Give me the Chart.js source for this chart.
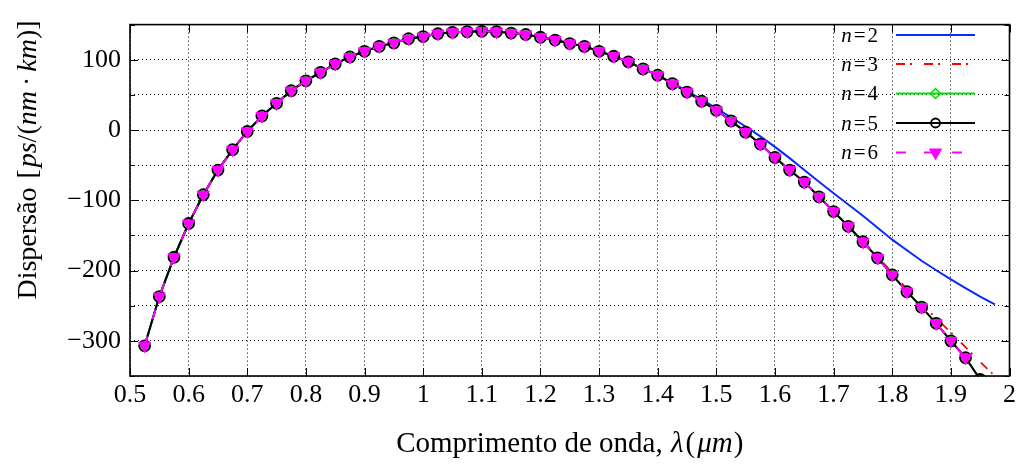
<!DOCTYPE html>
<html lang="pt">
<head>
<meta charset="UTF-8">
<title>Dispersão</title>
<script src="https://cdn.jsdelivr.net/npm/chart.js@4.4.1/dist/chart.umd.min.js"></script>
<style>
  body { margin: 0; background: #fff; }
</style>
</head>
<body>
<canvas id="chart" width="1020" height="464"></canvas>
<script>
// comprimento de onda (um)
const wavelength = [
  0.525, 0.55, 0.575, 0.6, 0.625, 0.65, 0.675, 0.7, 0.725, 0.75,
  0.775, 0.8, 0.825, 0.85, 0.875, 0.9, 0.925, 0.95, 0.975, 1.0,
  1.025, 1.05, 1.075, 1.1, 1.125, 1.15, 1.175, 1.2, 1.225, 1.25,
  1.275, 1.3, 1.325, 1.35, 1.375, 1.4, 1.425, 1.45, 1.475, 1.5,
  1.525, 1.55, 1.575, 1.6, 1.625, 1.65, 1.675, 1.7, 1.725, 1.75,
  1.775, 1.8, 1.825, 1.85, 1.875, 1.9, 1.925, 1.95, 1.975
];

// n=4, n=5 (curvas praticamente iguais)
const dispMain = [
  -307, -237, -181, -133, -92, -57, -28, -2, 20, 38,
  56, 70, 82, 94, 104, 112, 119, 124, 130, 133,
  137, 139, 140, 140.5, 140, 138, 136, 132, 128, 123,
  119, 112, 105, 97, 87, 78, 66, 54, 41, 28,
  13, -3, -20, -39, -57, -74, -95, -116, -137, -159,
  -182, -206, -230, -252, -275, -300, -324, -355, -378
];

const dispN2 = [
  -307, -237, -181, -133, -92, -57, -28, -2, 20, 38,
  56, 70, 82, 94, 104, 112, 119, 124, 130, 133,
  137, 139, 140, 140.5, 140, 138, 136, 132, 128, 123,
  119, 112, 105, 97, 87, 78, 67, 55.5, 43.5, 31,
  18, 5, -9, -24, -40, -57, -73.5, -90, -106, -122,
  -139, -156, -171, -186, -199.5, -212.5, -225, -237, -248
];

const dispN3 = [
  -307, -237, -181, -133, -92, -57, -28, -2, 20, 38,
  56, 70, 82, 94, 104, 112, 119, 124, 130, 133,
  137, 139, 140, 140.5, 140, 138, 136, 132, 128, 123,
  119, 112, 105, 97, 87, 78, 66, 54, 41, 28,
  13, -3, -20, -39, -57, -74, -95, -116, -137, -158,
  -180, -203, -226, -247, -268, -288, -309, -330, -350
];

const dispN4 = dispMain;
const dispN5 = dispMain;
const dispN6 = dispMain.slice(0, 57); // marcadores até 1.925

const seriesLabels = ['2', '3', '4', '5', '6'];
const xTicks = { min: 0.5, max: 2, step: 0.1 };
const yTicks = { min: -350, max: 150, step: 50 };

function pts(ys) {
  return ys.map((y, i) => ({ x: wavelength[i], y: y }));
}

const SERIF = "'Liberation Serif', 'DejaVu Serif', serif";

const datasets = [
  {
    label: 'n=2', data: pts(dispN2), order: 5,
    borderColor: '#0a28ff', borderWidth: 2, pointRadius: 0
  },
  {
    label: 'n=3', data: pts(dispN3), order: 4,
    borderColor: '#ff0000', borderWidth: 1.8, borderDash: [9, 5, 2, 12], pointRadius: 0
  },
  {
    label: 'n=4', data: pts(dispN4), order: 3, clip: 0,
    borderColor: '#00e000', borderWidth: 2, pointStyle: 'rectRot',
    pointRadius: 5, pointBorderWidth: 1.5, pointBackgroundColor: 'rgba(0,0,0,0)',
    pointBorderColor: '#00e000'
  },
  {
    label: 'n=5', data: pts(dispN5), order: 2, clip: 0,
    borderColor: '#000000', borderWidth: 2, pointStyle: 'circle',
    pointRadius: 5.5, pointBorderWidth: 1.8, pointBackgroundColor: 'rgba(0,0,0,0)',
    pointBorderColor: '#000000'
  },
  {
    label: 'n=6', data: pts(dispN6), order: 1,
    borderColor: '#ff00ff', borderWidth: 2, borderDash: [10, 18], pointStyle: 'triangle',
    pointRotation: 180, pointRadius: 7, pointBorderWidth: 1,
    pointBackgroundColor: '#ff00ff', pointBorderColor: '#ff00ff'
  }
];

// texto com partes em itálico
function drawRich(ctx, parts, size) {
  let w = 0;
  parts.forEach(p => {
    ctx.font = (p.it ? 'italic ' : '') + size + 'px ' + SERIF;
    w += ctx.measureText(p.t).width + (p.pad || 0) * 2;
  });
  return w;
}
function fillRich(ctx, parts, size, x, y) {
  parts.forEach(p => {
    ctx.font = (p.it ? 'italic ' : '') + size + 'px ' + SERIF;
    x += (p.pad || 0);
    ctx.fillText(p.t, x, y);
    x += ctx.measureText(p.t).width + (p.pad || 0);
  });
}

function drawMarker(ctx, ds, x, y) {
  const r = ds.pointRadius;
  ctx.save();
  ctx.setLineDash([]);
  ctx.lineWidth = ds.pointBorderWidth;
  ctx.strokeStyle = ds.pointBorderColor;
  ctx.fillStyle = ds.pointBackgroundColor;
  ctx.beginPath();
  if (ds.pointStyle === 'circle') {
    ctx.arc(x, y, r - 1, 0, Math.PI * 2);
  } else if (ds.pointStyle === 'rectRot') {
    ctx.moveTo(x, y - r); ctx.lineTo(x + r, y); ctx.lineTo(x, y + r); ctx.lineTo(x - r, y);
    ctx.closePath();
  } else if (ds.pointStyle === 'triangle') {
    ctx.moveTo(x, y + r);
    ctx.lineTo(x + r * Math.sin(2 * Math.PI / 3), y - r * 0.5);
    ctx.lineTo(x - r * Math.sin(2 * Math.PI / 3), y - r * 0.5);
    ctx.closePath();
  }
  ctx.fill();
  ctx.stroke();
  ctx.restore();
}

const framePlugin = {
  id: 'frame',
  afterDraw(chart) {
    const { ctx, chartArea: a, scales } = chart;
    const xs = scales.x, ys = scales.y;
    ctx.save();
    ctx.strokeStyle = '#000';
    ctx.lineWidth = 1;
    ctx.setLineDash([]);
    // marcas para dentro
    ctx.beginPath();
    for (let v = xTicks.min; v <= xTicks.max + 1e-9; v += xTicks.step) {
      const px = Math.round(xs.getPixelForValue(v)) + 0.5;
      ctx.moveTo(px, a.bottom); ctx.lineTo(px, a.bottom - 8);
      ctx.moveTo(px, a.top); ctx.lineTo(px, a.top + 8);
    }
    for (let v = yTicks.min; v <= yTicks.max; v += yTicks.step) {
      const py = Math.round(ys.getPixelForValue(v)) + 0.5;
      const len = v % 100 === 0 ? 8 : 5;
      ctx.moveTo(a.left, py); ctx.lineTo(a.left + len, py);
      ctx.moveTo(a.right, py); ctx.lineTo(a.right - len, py);
    }
    ctx.stroke();
    ctx.lineWidth = 1.6;
    ctx.strokeRect(a.left, a.top, a.right - a.left, a.bottom - a.top);

    // legenda
    const rows = [35, 64, 93.5, 123, 152.5];
    ctx.fillStyle = '#000';
    ctx.textBaseline = 'middle';
    chart.data.datasets.forEach((ds, i) => {
      const y = rows[i];
      const parts = [{ t: 'n', it: true }, { t: '=', pad: 2 }, { t: seriesLabels[i] }];
      const w = drawRich(ctx, parts, 21);
      fillRich(ctx, parts, 21, 878 - w, y + 1);
      ctx.save();
      ctx.strokeStyle = ds.borderColor;
      ctx.lineWidth = ds.borderWidth;
      ctx.setLineDash(ds.borderDash || []);
      ctx.beginPath();
      ctx.moveTo(896, y); ctx.lineTo(975, y);
      ctx.stroke();
      ctx.restore();
      if (ds.pointRadius) drawMarker(ctx, ds, 935.5, y);
    });

    // títulos dos eixos
    ctx.textBaseline = 'alphabetic';
    const xt = [{ t: 'Comprimento de onda, ' }, { t: 'λ', it: true, pad: 1 }, { t: '(', pad: 1 },
                { t: 'μm', it: true, pad: 1 }, { t: ')' }];
    const wx = drawRich(ctx, xt, 29);
    fillRich(ctx, xt, 29, (a.left + a.right) / 2 - wx / 2, 452);

    const yt = [{ t: 'Dispersão ' }, { t: '[', pad: 2 }, { t: 'ps', it: true }, { t: '/(' },
                { t: 'nm', it: true }, { t: '·', pad: 5 }, { t: 'km', it: true }, { t: ')]' }];
    const wy = drawRich(ctx, yt, 28);
    ctx.translate(36, 160);
    ctx.rotate(-Math.PI / 2);
    fillRich(ctx, yt, 28, -wy / 2, 0);
    ctx.restore();
  }
};

const gridStyle = {
  color: '#000',
  lineWidth: 1,
  drawTicks: false
};
const borderStyle = { display: false, dash: [1, 3] };

new Chart(document.getElementById('chart'), {
  type: 'line',
  data: { datasets: datasets },
  options: {
    responsive: false,
    animation: false,
    devicePixelRatio: 1,
    layout: { padding: { left: 0, right: 10, top: 12, bottom: 0 }, autoPadding: false },
    plugins: { legend: { display: false }, tooltip: { enabled: false } },
    elements: { line: { tension: 0 } },
    scales: {
      x: {
        type: 'linear',
        min: xTicks.min, max: xTicks.max,
        afterFit: s => { s.height = 88; },
        border: borderStyle,
        grid: gridStyle,
        ticks: {
          stepSize: xTicks.step,
          padding: 4,
          color: '#000',
          font: { family: SERIF, size: 26 },
          maxRotation: 0,
          autoSkip: false,
          callback: v => String(Number(v.toFixed(1)))
        }
      },
      y: {
        type: 'linear',
        min: yTicks.min, max: yTicks.max,
        afterFit: s => { s.width = 130; },
        border: borderStyle,
        grid: gridStyle,
        ticks: {
          stepSize: yTicks.step,
          padding: 9,
          color: '#000',
          font: { family: SERIF, size: 26 },
          autoSkip: false,
          callback: v => v % 100 === 0 ? (v < 0 ? '\u2212' + Math.abs(v) : String(v)) : ''
        }
      }
    }
  },
  plugins: [framePlugin]
});
</script>
</body>
</html>
